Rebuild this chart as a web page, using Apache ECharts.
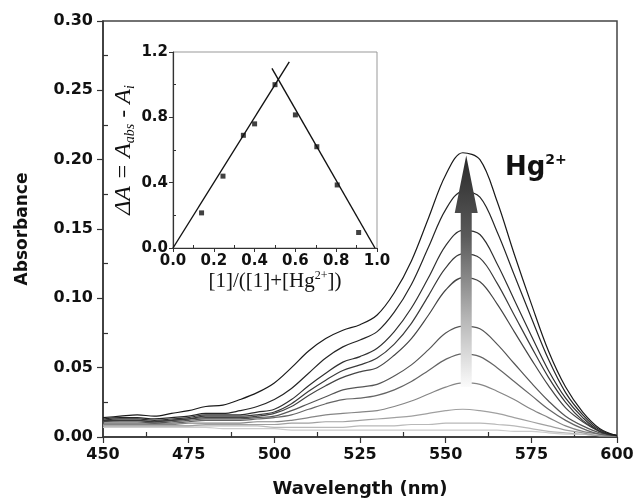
<!DOCTYPE html>
<html>
<head>
<meta charset="utf-8">
<script src="https://cdn.jsdelivr.net/npm/echarts@6/dist/echarts.min.js"></script>
<style>
html,body{margin:0;padding:0;background:#fff;}
#chart{width:635px;height:501px;}
</style>
</head>
<body>
<div id="chart"></div>
<script>
// ---- Main spectra data ----
const wavelengths = [450,455,460,465,470,475,480,485,490,495,500,505,510,515,520,525,530,535,540,545,550,555,560,565,570,575,580,585,590,595,600];
const curve1  = [.014,.015,.016,.015,.017,.019,.022,.023,.027,.032,.039,.050,.062,.071,.077,.081,.088,.104,.127,.158,.189,.205,.200,.170,.132,.096,.062,.036,.018,.006,.001];
const curve2  = [.013,.014,.014,.013,.014,.015,.017,.017,.019,.022,.027,.035,.046,.057,.065,.070,.076,.090,.110,.137,.164,.177,.173,.148,.117,.086,.056,.032,.016,.005,.001];
const curve3  = [.012,.013,.013,.012,.013,.014,.016,.016,.016,.018,.020,.027,.037,.046,.054,.058,.064,.076,.093,.115,.138,.149,.146,.125,.099,.073,.048,.028,.014,.004,.001];
const curve4  = [.012,.012,.012,.011,.012,.013,.015,.015,.015,.016,.018,.024,.033,.041,.048,.052,.057,.067,.082,.102,.122,.132,.129,.111,.088,.065,.043,.025,.012,.004,.001];
const curve5  = [.011,.012,.012,.011,.012,.013,.014,.014,.014,.015,.017,.022,.030,.037,.043,.047,.050,.059,.071,.088,.106,.115,.112,.096,.076,.056,.037,.021,.011,.004,.001];
const curve6  = [.011,.011,.011,.010,.011,.012,.013,.013,.013,.014,.015,.019,.024,.029,.034,.036,.038,.044,.052,.063,.075,.080,.078,.067,.053,.039,.026,.015,.008,.003,.001];
const curve7  = [.010,.010,.010,.010,.010,.011,.012,.012,.012,.013,.014,.016,.020,.024,.027,.028,.030,.034,.040,.048,.056,.060,.058,.050,.040,.030,.020,.012,.006,.002,.001];
const curve8  = [.009,.009,.009,.009,.009,.010,.010,.010,.010,.011,.011,.012,.014,.016,.017,.018,.019,.022,.026,.031,.036,.039,.038,.033,.027,.020,.014,.008,.004,.002,.001];
const curve9  = [.008,.008,.008,.008,.008,.008,.009,.009,.009,.009,.009,.010,.010,.011,.011,.012,.013,.014,.015,.017,.019,.020,.019,.017,.014,.011,.008,.005,.003,.001,.001];
const curve10 = [.008,.008,.008,.008,.008,.008,.008,.008,.008,.008,.007,.007,.007,.007,.007,.008,.008,.008,.009,.009,.010,.010,.010,.009,.008,.006,.004,.003,.002,.001,.001];
const curve11 = [.007,.007,.007,.007,.007,.007,.007,.006,.006,.006,.006,.005,.005,.005,.005,.005,.005,.005,.005,.005,.005,.005,.005,.005,.004,.004,.003,.002,.002,.001,.001];
const curves = [curve1,curve2,curve3,curve4,curve5,curve6,curve7,curve8,curve9,curve10,curve11];
const curveColors = ['#1a1a1a','#262626','#303030','#3a3a3a','#454545','#555555','#656565','#858585','#a0a0a0','#b8b8b8','#cccccc'];

// ---- Inset (Job plot) data ----
const jobX = [0.14,0.245,0.345,0.40,0.50,0.60,0.705,0.805,0.91];
const jobY = [0.215,0.44,0.69,0.76,1.00,0.815,0.62,0.386,0.095];
const fitLeftX = [0.0,0.57];
const fitLeftY = [0.0,1.14];
const fitRightX = [0.485,0.99];
const fitRightY = [1.10,0.0];

// ---- Tick labels ----
const mainXTicks = [450,475,500,525,550,575,600];
const mainYTicks = [0.00,0.05,0.10,0.15,0.20,0.25,0.30];
const insetXTicks = [0.0,0.2,0.4,0.6,0.8,1.0];
const insetYTicks = [0.0,0.4,0.8,1.2];

// ---- Arrow annotation (data coordinates) ----
const arrowX = 556;
const arrowTipY = 0.203;
const arrowHeadBaseY = 0.1615;
const arrowTailY = 0.036;

const chart = echarts.init(document.getElementById('chart'), null, {renderer:'canvas'});

const sansBold = {fontFamily:'DejaVu Sans', fontWeight:'bold', color:'#111'};
const axisLineStyle = {color:'#333', width:1.5};

const series = curves.map((c, k) => ({
  type:'line', xAxisIndex:0, yAxisIndex:0,
  data: wavelengths.map((w,i)=>[w,c[i]]),
  smooth:0.35, showSymbol:false, symbol:'none',
  lineStyle:{color:curveColors[k], width:1.2},
  z: 20 - k, silent:true
}));
series.push({
  type:'scatter', xAxisIndex:1, yAxisIndex:1,
  data: jobX.map((x,i)=>[x,jobY[i]]),
  symbol:'rect', symbolSize:5, itemStyle:{color:'#111'}, z:30, silent:true
});
series.push({
  type:'line', xAxisIndex:1, yAxisIndex:1,
  data: fitLeftX.map((x,i)=>[x,fitLeftY[i]]),
  showSymbol:false, symbol:'none', lineStyle:{color:'#111', width:1.4}, z:30, silent:true
});
series.push({
  type:'line', xAxisIndex:1, yAxisIndex:1,
  data: fitRightX.map((x,i)=>[x,fitRightY[i]]),
  showSymbol:false, symbol:'none', lineStyle:{color:'#111', width:1.4}, z:30, silent:true
});

chart.setOption({
  animation:false,
  backgroundColor:'#fff',
  grid:[
    {left:103, right:18, top:21, bottom:64, show:true, borderColor:'#444', borderWidth:1.5, backgroundColor:'transparent', containLabel:false, outerBoundsMode:'none'},
    {left:173, right:258, top:52, bottom:253, show:true, borderColor:'#999', borderWidth:1, backgroundColor:'transparent', containLabel:false, outerBoundsMode:'none'}
  ],
  xAxis:[
    {type:'value', gridIndex:0, min:450, max:600, interval:25,
     name:'Wavelength (nm)', nameLocation:'middle', nameGap:43,
     nameTextStyle:Object.assign({fontSize:18}, sansBold),
     axisLine:{show:true, onZero:false, lineStyle:axisLineStyle},
     axisTick:{show:true, length:6, lineStyle:{color:'#333', width:1.2}},
     minorTick:{show:true, splitNumber:2, length:-5, lineStyle:{color:'#333', width:1.2}},
     splitLine:{show:false},
     axisLabel:Object.assign({fontSize:16, margin:10, formatter:v=>mainXTicks.includes(v)?String(v):''}, sansBold)
    },
    {type:'value', gridIndex:1, min:0, max:1, interval:0.2,
     name:'{n|[1]/([1]+[Hg}{p|2+}{n|])}', nameLocation:'middle', nameGap:20,
     nameTextStyle:{rich:{
       n:{fontFamily:'Liberation Serif', fontSize:21, color:'#111', lineHeight:24},
       p:{fontFamily:'Liberation Serif', fontSize:12, color:'#111', lineHeight:12, verticalAlign:'top'}
     }},
     axisLine:{show:true, onZero:false, lineStyle:{color:'#333', width:1.2}},
     axisTick:{show:true, length:4, lineStyle:{color:'#333'}},
     minorTick:{show:true, splitNumber:2, length:-3, lineStyle:{color:'#333'}},
     splitLine:{show:false},
     axisLabel:Object.assign({fontSize:15, margin:6, formatter:v=>{const t=insetXTicks.find(a=>Math.abs(a-v)<1e-6);return t===undefined?'':t.toFixed(1);}}, sansBold)
    }
  ],
  yAxis:[
    {type:'value', gridIndex:0, min:0, max:0.3, interval:0.05,
     name:'Absorbance', nameLocation:'middle', nameGap:72,
     nameTextStyle:Object.assign({fontSize:17}, sansBold),
     axisLine:{show:true, onZero:false, lineStyle:axisLineStyle},
     axisTick:{show:true, length:6, lineStyle:{color:'#333', width:1.2}},
     minorTick:{show:true, splitNumber:2, length:-5, lineStyle:{color:'#333', width:1.2}},
     splitLine:{show:false},
     axisLabel:Object.assign({fontSize:16, margin:10, formatter:v=>{const t=mainYTicks.find(a=>Math.abs(a-v)<1e-9);return t===undefined?'':t.toFixed(2);}}, sansBold)
    },
    {type:'value', gridIndex:1, min:0, max:1.2, interval:0.4,
     name:'{i|ΔA = A}{s|abs}{i| - A}{s|i}', nameLocation:'middle', nameGap:32,
     nameTextStyle:{rich:{
       i:{fontFamily:'Liberation Serif', fontStyle:'italic', fontSize:24, color:'#111', lineHeight:28},
       s:{fontFamily:'Liberation Serif', fontStyle:'italic', fontSize:14, color:'#111', lineHeight:14, verticalAlign:'bottom'}
     }},
     axisLine:{show:true, onZero:false, lineStyle:{color:'#333', width:1.2}},
     axisTick:{show:true, length:4, lineStyle:{color:'#333'}},
     minorTick:{show:true, splitNumber:2, length:-3, lineStyle:{color:'#333'}},
     splitLine:{show:false},
     axisLabel:Object.assign({fontSize:15, margin:5, formatter:v=>{const t=insetYTicks.find(a=>Math.abs(a-v)<1e-6);return t===undefined?'':t.toFixed(1);}}, sansBold)
    }
  ],
  series:series
});

// Arrow + Hg2+ label placed through the chart's own coordinate conversion
const tip = chart.convertToPixel({xAxisIndex:0, yAxisIndex:0}, [arrowX, arrowTipY]);
const base = chart.convertToPixel({xAxisIndex:0, yAxisIndex:0}, [arrowX, arrowHeadBaseY]);
const tail = chart.convertToPixel({xAxisIndex:0, yAxisIndex:0}, [arrowX, arrowTailY]);
const lab = chart.convertToPixel({xAxisIndex:0, yAxisIndex:0}, [567.3, 0.194]);
const hw = 11.5, sw = 5.5;
chart.setOption({
  graphic:[
    {type:'polygon', z:100,
     shape:{points:[[tip[0],tip[1]],[tip[0]+hw,base[1]],[tip[0]+sw,base[1]],[tip[0]+sw,tail[1]],[tip[0]-sw,tail[1]],[tip[0]-sw,base[1]],[tip[0]-hw,base[1]]]},
     style:{fill:new echarts.graphic.LinearGradient(0,0,0,1,[
       {offset:0,color:'#2a2a2a'},{offset:0.35,color:'#5a5a5a'},{offset:0.7,color:'#b5b5b5'},{offset:1,color:'#fbfbfb'}])}
    },
    {type:'text', z:100, x:lab[0], y:lab[1],
     style:{text:'{b|Hg}{p|2+}', verticalAlign:'middle', align:'left',
       rich:{
         b:{fontFamily:'DejaVu Sans', fontWeight:'bold', fontSize:26, fill:'#111', lineHeight:30},
         p:{fontFamily:'DejaVu Sans', fontWeight:'bold', fontSize:14, fill:'#111', lineHeight:14, verticalAlign:'top'}
       }}
    }
  ]
});
</script>
</body>
</html>
